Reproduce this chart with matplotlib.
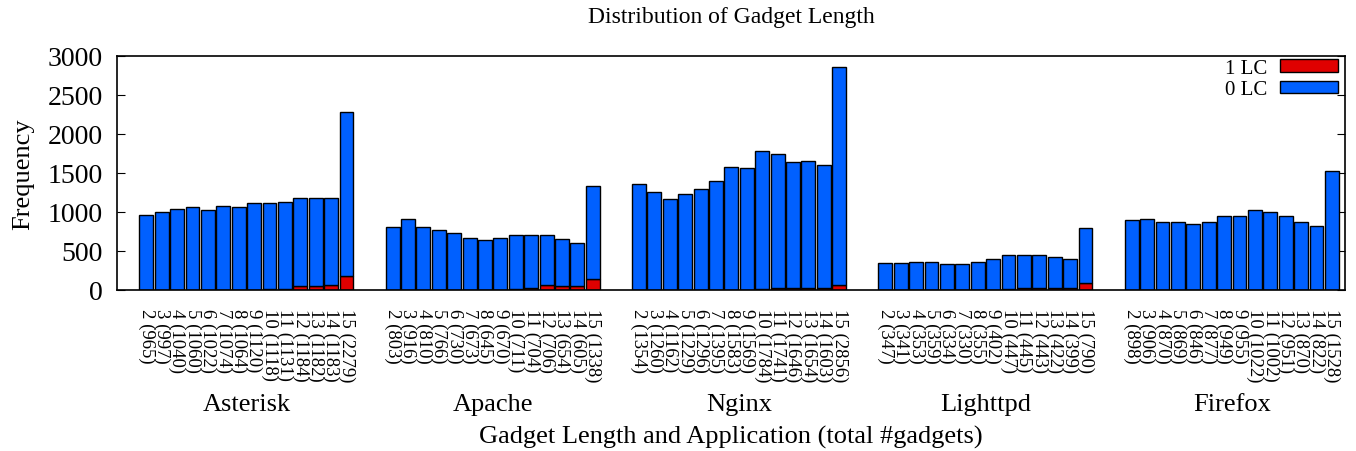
import numpy as np
import matplotlib
matplotlib.use('Agg')
import matplotlib.pyplot as plt
import matplotlib.transforms as mtransforms

plt.rcParams['font.family'] = ['Liberation Serif', 'DejaVu Serif']

apps = ['Asterisk', 'Apache', 'Nginx', 'Lighttpd', 'Firefox']
lengths = list(range(2, 16))

# total gadgets per length (from tick labels)
asterisk_total = [965, 997, 1040, 1060, 1022, 1074, 1064, 1120, 1118, 1131, 1184, 1182, 1183, 2279]
apache_total = [803, 916, 810, 766, 730, 673, 645, 670, 711, 704, 706, 654, 605, 1338]
nginx_total = [1354, 1260, 1162, 1229, 1296, 1395, 1583, 1569, 1784, 1741, 1646, 1654, 1603, 2856]
lighttpd_total = [347, 341, 353, 359, 334, 330, 355, 402, 447, 445, 443, 422, 399, 790]
firefox_total = [898, 906, 870, 869, 846, 877, 949, 955, 1022, 1002, 951, 870, 822, 1528]

# gadgets with 1 LC (red part)
asterisk_lc1 = [0, 0, 0, 0, 0, 0, 0, 3, 8, 15, 50, 45, 70, 175]
apache_lc1 = [0, 0, 0, 0, 0, 0, 0, 5, 15, 30, 60, 50, 55, 140]
nginx_lc1 = [0, 0, 0, 0, 0, 0, 5, 5, 15, 25, 30, 30, 30, 65]
lighttpd_lc1 = [0, 0, 0, 0, 0, 0, 0, 3, 15, 20, 25, 30, 30, 92]
firefox_lc1 = [0] * 14

totals = [asterisk_total, apache_total, nginx_total, lighttpd_total, firefox_total]
lc1s = [asterisk_lc1, apache_lc1, nginx_lc1, lighttpd_lc1, firefox_lc1]

fig = plt.figure(figsize=(13.56, 4.52), dpi=100)
ax = fig.add_axes([117/1356, 1-291/452, (1345-117)/1356, (291-57)/452])
grp_tr = mtransforms.blended_transform_factory(ax.transData, fig.transFigure)
cx = (117 + 1345) / 2 / 1356  # centre of the plot area

blue = '#0060ff'
red = '#e00000'
w = 0.9
ticks, ticklabels = [], []
for g, (tot, lc1) in enumerate(zip(totals, lc1s)):
    x = g * 16 + np.arange(14)
    tot = np.array(tot)
    lc1 = np.array(lc1)
    ax.bar(x, lc1, width=w, color=red, edgecolor='black', linewidth=1,
           label='1 LC' if g == 0 else None, zorder=2)
    ax.bar(x, tot - lc1, bottom=lc1, width=w, color=blue, edgecolor='black', linewidth=1,
           label='0 LC' if g == 0 else None, zorder=2)
    ticks += list(x)
    ticklabels += ['%d (%d)' % (l, t) for l, t in zip(lengths, tot)]
    ax.text(g * 16 + 6.5, 1-405/452, apps[g], transform=grp_tr,
            ha='center', va='center', fontsize=19)

ax.set_xlim(-1.9, 77.85)
ax.set_ylim(0, 3000)
ax.set_yticks(range(0, 3001, 500))
ax.set_xticks(ticks)
ax.set_xticklabels(ticklabels, rotation=270, fontsize=13.5, va='top', ha='center')
ax.tick_params(axis='x', length=0, pad=13)
ax.tick_params(axis='y', direction='in', right=True, labelsize=20, length=6, pad=10)
for s in ax.spines.values():
    s.set_linewidth(1.2)

ax.set_ylabel('Frequency', fontsize=19, labelpad=10)
fig.text(cx, 1-437/452, 'Gadget Length and Application (total #gadgets)',
         ha='center', va='center', fontsize=19)
fig.text(cx, 1-18/452, 'Distribution of Gadget Length', ha='center', va='center',
         fontsize=17)

leg = ax.legend(loc='upper right', bbox_to_anchor=(1340/1356, 1-58/452),
                bbox_transform=fig.transFigure, frameon=False, fontsize=15,
                markerfirst=False, handlelength=2.8, handleheight=0.55,
                borderaxespad=0.0, borderpad=0.1, labelspacing=0.1,
                handletextpad=0.6)

fig.savefig('out.png', dpi=100)
